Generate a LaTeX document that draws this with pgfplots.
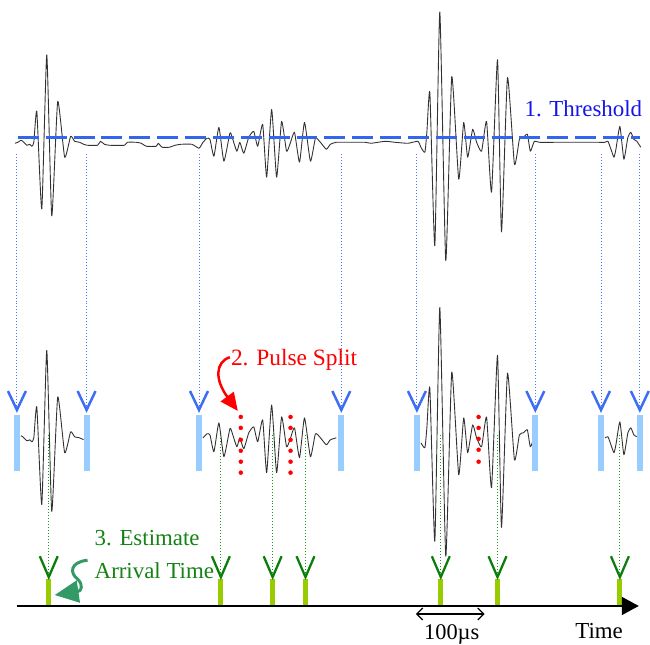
\documentclass[border=0pt]{standalone}
\usepackage{fontspec}
\setmainfont{Liberation Serif}
\usepackage{pgfplots}
\usepackage{pgfplotstable}
\pgfplotsset{compat=1.18}
\usetikzlibrary{arrows.meta}
\definecolor{thrblue}{RGB}{51,102,238}
\definecolor{vblue}{RGB}{60,110,245}
\definecolor{dotblue}{RGB}{70,120,255}
\definecolor{barblue}{RGB}{153,204,255}
\definecolor{txtblue}{RGB}{20,20,235}
\definecolor{vgreen}{RGB}{10,125,10}
\definecolor{dotgreen}{RGB}{30,150,30}
\definecolor{bargreen}{RGB}{153,204,0}
\definecolor{txtgreen}{RGB}{20,130,20}
\definecolor{arrgreen}{RGB}{51,153,102}
\definecolor{wave}{RGB}{50,50,50}

% top trace, pixel coordinates (y grows downwards)
\pgfplotstableread{
x y
15 144
18 143
21 141
23 142
27 146
30 145
32 147
34 143
37 112
42 210
47 55
52 217
58 102
65 158
71 137
75 142
80 143
84 145
88 146
98 146
101 142
105 145
110 146
125 146
128 143
137 143
142 144
147 147
157 147
159 144
163 148
170 148
176 146
182 145
193 145
200 149
204 143
208 139
211 140
215 157
220 128
225 162
231 134
233 137
238 152
241 143
245 154
250 138
255 132
259 147
264 125
268 178
273 110
278 178
283 122
288 152
292 143
296 133
301 163
306 123
312 162
317 139
322 143
328 150
332 145
338 143
350 143
367 143
373 144
387 142
397 143
410 144
420 142
423 148
427 153
429 133
432 93
437 247
442 12
448 262
454 77
461 180
466 123
470 158
475 130
479 143
484 152
489 122
494 193
500 60
504 233
510 78
517 165
522 140
526 138
530 135
533 152
537 142
542 143
560 143
580 143
600 143
608 143
611 142
614 150
617 158
619 150
623 127
627 160
631 138
634 133
637 140
640 142
644 148
}\wavetab

\begin{document}
\begin{tikzpicture}
\begin{axis}[
  width=650pt, height=647pt, scale only axis,
  xmin=0, xmax=650, ymin=0, ymax=647, y dir=reverse,
  hide axis, clip=false,
  unbounded coords=jump,
  every axis plot/.append style={line join=round},
]
\addplot[draw=none] coordinates {(0,0) (650,647)};

% waveform, top row and windowed copies
\addplot[wave, line width=0.9pt, smooth, tension=0.3] table[x=x, y=y] {\wavetab};
\addplot[wave, line width=0.9pt, smooth, tension=0.3, restrict x to domain=20:84] table[x=x, y expr=\thisrow{y}+297] {\wavetab};
\addplot[wave, line width=0.9pt, smooth, tension=0.3, restrict x to domain=203:338] table[x=x, y expr=\thisrow{y}+297] {\wavetab};
\addplot[wave, line width=0.9pt, smooth, tension=0.3, restrict x to domain=421:537] table[x=x, y expr=\thisrow{y}+297] {\wavetab};
\addplot[wave, line width=0.9pt, smooth, tension=0.3, restrict x to domain=608:640] table[x=x, y expr=\thisrow{y}+297] {\wavetab};

% threshold
\addplot[thrblue, line width=3pt, dash pattern=on 21pt off 7pt] coordinates {(18,138) (643,138)};
\node[txtblue, anchor=base west, inner sep=0pt, font=\fontsize{23}{26}\selectfont] at (axis cs:527,117) {1. Threshold};

% blue dotted drops
\addplot[dotblue, line width=1pt, dotted] coordinates {
(17,155) (17,410) (nan,nan) (87,155) (87,410) (nan,nan)
(200,155) (200,410) (nan,nan) (343,155) (343,410) (nan,nan)
(419,155) (419,410) (nan,nan) (538,155) (538,410) (nan,nan)
(604,155) (604,410) (nan,nan) (643,155) (643,410)};
% blue chevrons
\addplot[vblue, line width=2.5pt, line join=miter] coordinates {
(8,393) (17,412) (26,393) (nan,nan) (78,393) (87,412) (96,393) (nan,nan)
(191,393) (200,412) (209,393) (nan,nan) (334,393) (343,412) (352,393) (nan,nan)
(410,393) (419,412) (428,393) (nan,nan) (529,393) (538,412) (547,393) (nan,nan)
(595,393) (604,412) (613,393) (nan,nan) (634,393) (643,412) (652,393)};
% light blue bars
\addplot[barblue, line width=6pt] coordinates {
(17,417) (17,473) (nan,nan) (87,417) (87,473) (nan,nan)
(200,417) (200,473) (nan,nan) (343,417) (343,473) (nan,nan)
(419,417) (419,473) (nan,nan) (538,417) (538,473) (nan,nan)
(604,417) (604,473) (nan,nan) (643,417) (643,473)};

% pulse split dots
\addplot[only marks, mark=*, mark size=2pt, red] coordinates {
(242,419) (242,430) (242,442) (242,453) (242,464) (242,475)
(292,419) (292,430) (292,442) (292,453) (292,464) (292,475)
(481,419) (481,430) (481,441) (481,452) (481,464)};
\node[red, anchor=base west, inner sep=0pt, font=\fontsize{23.5}{26}\selectfont] at (axis cs:232,367) {2. Pulse Split};
\draw[red, line width=2.5pt, -{Triangle[length=18pt, width=16pt]}]
  (axis cs:231,359) .. controls (axis cs:216,364) and (axis cs:216,382) .. (axis cs:239,413);

% green dotted drops
\addplot[dotgreen, line width=1pt, dotted] coordinates {
(49,437) (49,578) (nan,nan) (222,437) (222,578) (nan,nan)
(274,437) (274,578) (nan,nan) (307,437) (307,578) (nan,nan)
(443,437) (443,578) (nan,nan) (500,437) (500,578) (nan,nan)
(623,437) (623,578)};
% green bars
\addplot[bargreen, line width=5pt] coordinates {
(49,582) (49,608) (nan,nan) (222,582) (222,608) (nan,nan)
(274,582) (274,608) (nan,nan) (307,582) (307,608) (nan,nan)
(443,582) (443,608) (nan,nan) (500,582) (500,608) (nan,nan)
(623,582) (623,608)};

\node[txtgreen, anchor=base west, inner sep=0pt, font=\fontsize{23}{26}\selectfont] at (axis cs:95,548) {3. Estimate};
\node[txtgreen, anchor=base west, inner sep=0pt, font=\fontsize{23}{26}\selectfont] at (axis cs:95,581) {Arrival Time};
% green chevrons
\addplot[vgreen, line width=2.3pt, line join=miter] coordinates {
(40,559) (49,580) (58,559) (nan,nan) (213,559) (222,580) (231,559) (nan,nan)
(265,559) (274,580) (283,559) (nan,nan) (298,559) (307,580) (316,559) (nan,nan)
(434,559) (443,580) (452,559) (nan,nan) (491,559) (500,580) (509,559) (nan,nan)
(614,559) (623,580) (632,559)};
\draw[arrgreen, line width=3pt, -{Triangle[length=24pt, width=22pt]}]
  (axis cs:88,563) .. controls (axis cs:70,565) and (axis cs:70,576) .. (axis cs:78,582)
  .. controls (axis cs:84,588) and (axis cs:82,594) .. (axis cs:55,598);

% time axis
\draw[black, line width=1.5pt, -{Triangle[length=17pt, width=18pt]}] (axis cs:17,609) -- (axis cs:642,609);
\draw[black, line width=1.2pt, {Straight Barb[length=6pt, width=12pt]}-{Straight Barb[length=6pt, width=12pt]}]
  (axis cs:418,617) -- (axis cs:487,617);
\node[black, anchor=base, inner sep=0pt, font=\fontsize{22.5}{26}\selectfont] at (axis cs:454,643) {100µs};
\node[black, anchor=base west, inner sep=0pt, font=\fontsize{23}{26}\selectfont] at (axis cs:578,642) {Time};
\end{axis}
\end{tikzpicture}
\end{document}
